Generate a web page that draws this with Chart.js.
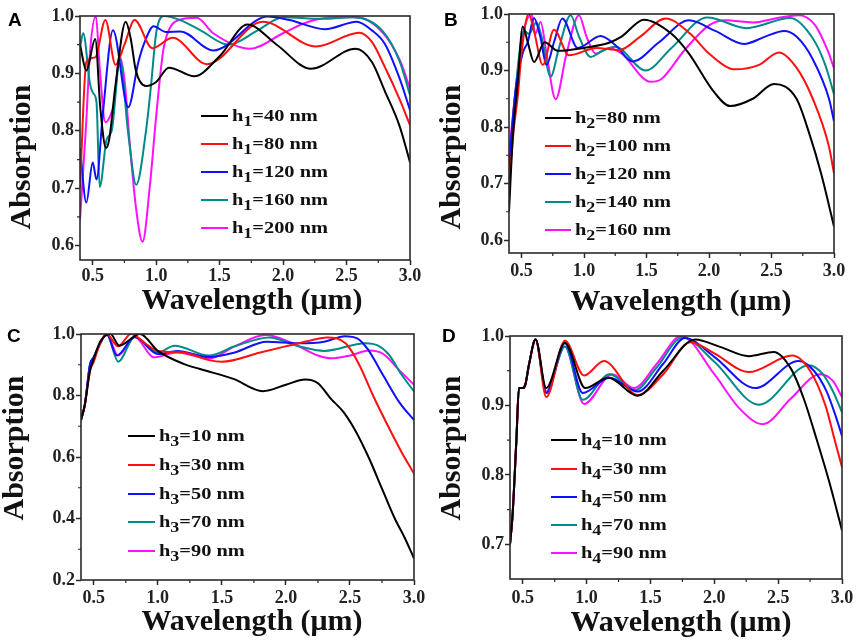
<!DOCTYPE html>
<html>
<head>
<meta charset="utf-8">
<script src="https://cdn.jsdelivr.net/npm/chart.js@4.4.0/dist/chart.umd.min.js"></script>
<style>
html,body{margin:0;padding:0;background:#fff;}
#wrap{position:relative;width:858px;height:644px;overflow:hidden;background:#fff;}
canvas{position:absolute;}
</style>
</head>
<body>
<div id="wrap">
<canvas id="cA" width="429" height="322" style="left:0;top:0"></canvas>
<canvas id="cB" width="429" height="322" style="left:429px;top:0"></canvas>
<canvas id="cC" width="429" height="322" style="left:0;top:322px"></canvas>
<canvas id="cD" width="429" height="322" style="left:429px;top:322px"></canvas>
</div>
<script>
// ---------- shared ticks ----------
const xTicks = [0.5, 1.0, 1.5, 2.0, 2.5, 3.0];
const xMinorTicks = [0.75, 1.25, 1.75, 2.25, 2.75];
const seriesColors = ['#000000', '#ff1010', '#1010ff', '#008b8b', '#ff10ff'];

// ---------- Panel A (h1) ----------
const A_labels = ['40 nm', '80 nm', '120 nm', '160 nm', '200 nm'];
const A_yTicks = [0.6, 0.7, 0.8, 0.9, 1.0];
const A_yMinor = [0.65, 0.75, 0.85, 0.95];
const A_x40 = [0.40,0.45,0.52,0.56,0.605,0.63,0.68,0.76,0.80,0.84,0.92,1.00,1.10,1.30,1.50,1.72,1.95,2.22,2.57,2.70,2.80,2.92,3.00];
const A_y40 = [0.95,0.905,0.96,0.84,0.77,0.785,0.88,0.99,0.96,0.905,0.878,0.885,0.91,0.895,0.93,0.985,0.95,0.908,0.943,0.92,0.87,0.807,0.745];
const A_x80 = [0.40,0.45,0.52,0.60,0.68,0.75,0.83,0.97,1.13,1.40,1.84,2.26,2.60,2.70,2.80,2.92,3.00];
const A_y80 = [0.70,0.92,0.928,0.993,0.915,0.95,0.993,0.944,0.962,0.916,0.99,0.947,0.971,0.955,0.912,0.854,0.81];
const A_x120 = [0.40,0.45,0.50,0.53,0.58,0.66,0.78,0.86,0.91,0.98,1.08,1.19,1.45,1.88,2.05,2.33,2.58,2.70,2.80,2.92,3.00];
const A_y120 = [0.77,0.675,0.745,0.715,0.83,0.975,0.841,0.92,0.955,0.982,0.972,0.973,0.94,0.999,0.993,0.977,0.99,0.975,0.952,0.89,0.836];
const A_x160 = [0.40,0.425,0.48,0.505,0.53,0.555,0.61,0.65,0.715,0.78,0.843,0.92,0.96,1.00,1.06,1.20,1.35,1.57,1.80,2.00,2.30,2.55,2.78,2.92,3.00];
const A_y160 = [0.945,0.97,0.88,0.865,0.85,0.702,0.785,0.80,0.925,0.795,0.706,0.80,0.88,0.97,1.0,0.992,0.975,0.95,0.975,0.998,0.995,0.998,0.975,0.92,0.862];
const A_x200 = [0.40,0.447,0.48,0.525,0.555,0.60,0.64,0.67,0.71,0.75,0.79,0.84,0.893,0.95,1.00,1.056,1.11,1.18,1.32,1.45,1.74,2.00,2.20,2.40,2.58,2.79,2.92,3.00];
const A_y200 = [0.645,0.807,0.94,1.0,0.91,0.815,0.827,0.85,0.93,0.89,0.784,0.668,0.607,0.703,0.825,0.94,0.98,0.993,0.997,0.97,0.943,0.97,0.99,0.998,0.998,0.97,0.923,0.874];

// ---------- Panel B (h2) ----------
const B_labels = ['80 nm', '100 nm', '120 nm', '140 nm', '160 nm'];
const B_yTicks = [0.6, 0.7, 0.8, 0.9, 1.0];
const B_yMinor = [0.65, 0.75, 0.85, 0.95];
const B_x80 = [0.40,0.43,0.47,0.51,0.55,0.60,0.685,0.79,1.00,1.20,1.30,1.48,1.70,1.84,2.03,2.17,2.35,2.52,2.70,2.80,2.90,3.00];
const B_y80 = [0.65,0.78,0.88,0.978,0.95,0.915,0.95,0.935,0.94,0.949,0.96,0.99,0.965,0.93,0.865,0.837,0.85,0.876,0.85,0.79,0.715,0.624];
const B_x100 = [0.40,0.44,0.47,0.50,0.557,0.60,0.67,0.76,0.88,1.10,1.28,1.45,1.653,1.85,2.00,2.21,2.40,2.56,2.70,2.83,2.96,3.00];
const B_y100 = [0.697,0.80,0.854,0.93,1.0,0.97,0.91,0.972,0.927,0.94,0.936,0.96,0.992,0.965,0.93,0.902,0.91,0.932,0.905,0.85,0.765,0.718];
const B_x120 = [0.40,0.45,0.51,0.55,0.60,0.65,0.70,0.76,0.827,0.95,1.133,1.25,1.387,1.60,1.84,2.05,2.28,2.45,2.60,2.70,2.83,2.96,3.00];
const B_y120 = [0.73,0.86,0.931,0.95,0.993,0.96,0.91,0.95,0.992,0.94,0.961,0.945,0.916,0.95,0.989,0.97,0.947,0.96,0.97,0.96,0.92,0.85,0.81];
const B_x140 = [0.40,0.45,0.52,0.56,0.62,0.66,0.733,0.80,0.893,0.96,1.053,1.15,1.25,1.493,1.70,1.987,2.30,2.65,2.83,2.93,3.00];
const B_y140 = [0.72,0.86,0.97,0.965,0.985,0.96,0.889,0.94,0.998,0.96,0.924,0.935,0.942,0.90,0.94,0.994,0.975,0.993,0.957,0.91,0.858];
const B_x160 = [0.40,0.45,0.50,0.58,0.61,0.653,0.70,0.773,0.86,0.96,1.02,1.093,1.20,1.30,1.533,1.62,1.80,2.00,2.133,2.35,2.55,2.72,2.85,2.95,3.00];
const B_y160 = [0.753,0.86,0.95,1.0,0.965,0.986,0.93,0.849,0.93,0.998,0.96,0.93,0.94,0.93,0.88,0.885,0.935,0.98,0.989,0.985,0.993,0.998,0.98,0.935,0.904];

// ---------- Panel C (h3) ----------
const C_labels = ['10 nm', '30 nm', '50 nm', '70 nm', '90 nm'];
const C_yTicks = [0.2, 0.4, 0.6, 0.8, 1.0];
const C_yMinor = [0.3, 0.5, 0.7, 0.9];
const C_x10 = [0.40,0.43,0.47,0.50,0.55,0.63,0.70,0.86,1.00,1.20,1.33,1.59,1.82,2.00,2.15,2.25,2.35,2.45,2.55,2.65,2.75,2.85,2.93,3.00];
const C_y10 = [0.72,0.77,0.88,0.92,0.975,1.0,0.962,1.0,0.945,0.903,0.886,0.854,0.814,0.835,0.852,0.84,0.79,0.746,0.68,0.595,0.497,0.40,0.335,0.27];
const C_x30 = [0.40,0.43,0.47,0.50,0.55,0.60,0.69,0.79,0.90,1.00,1.20,1.40,1.50,1.80,2.00,2.20,2.32,2.47,2.576,2.68,2.81,2.90,3.00];
const C_y30 = [0.72,0.77,0.88,0.91,0.97,1.0,0.96,1.0,0.97,0.945,0.94,0.915,0.91,0.94,0.96,0.98,0.989,0.968,0.897,0.80,0.69,0.618,0.546];
const C_x50 = [0.40,0.43,0.47,0.50,0.55,0.60,0.68,0.82,1.00,1.15,1.40,1.60,1.85,2.10,2.30,2.46,2.56,2.64,2.76,2.89,3.00];
const C_y50 = [0.72,0.77,0.90,0.925,0.97,1.0,0.93,0.99,0.935,0.945,0.925,0.94,0.975,0.97,0.975,0.993,0.985,0.95,0.865,0.775,0.72];
const C_x70 = [0.40,0.43,0.47,0.50,0.55,0.60,0.69,0.82,1.00,1.13,1.40,1.60,1.87,2.10,2.30,2.62,2.72,2.80,2.90,3.00];
const C_y70 = [0.72,0.77,0.90,0.925,0.97,1.0,0.91,0.99,0.94,0.962,0.93,0.96,0.989,0.96,0.945,0.97,0.962,0.935,0.87,0.813];
const C_x90 = [0.40,0.43,0.47,0.50,0.55,0.60,0.69,0.82,0.97,1.15,1.40,1.60,1.84,2.05,2.25,2.35,2.50,2.65,2.76,2.89,3.00];
const C_y90 = [0.72,0.77,0.90,0.925,0.97,1.0,0.93,0.99,0.924,0.94,0.92,0.96,0.997,0.97,0.93,0.921,0.93,0.946,0.935,0.88,0.835];

// ---------- Panel D (h4) ----------
const D_labels = ['10 nm', '30 nm', '50 nm', '70 nm', '90 nm'];
const D_yTicks = [0.7, 0.8, 0.9, 1.0];
const D_yMinor = [0.75, 0.85, 0.95];
const D_x10 = [0.40,0.42,0.45,0.47,0.50,0.52,0.55,0.60,0.684,0.83,0.99,1.17,1.40,1.60,1.85,2.05,2.27,2.465,2.60,2.70,2.80,2.90,3.00];
const D_y10 = [0.70,0.742,0.85,0.925,0.925,0.93,0.96,0.995,0.925,0.99,0.925,0.94,0.914,0.95,0.995,0.984,0.971,0.977,0.953,0.91,0.852,0.79,0.72];
const D_x30 = [0.40,0.42,0.45,0.47,0.50,0.52,0.55,0.60,0.684,0.83,0.98,1.135,1.40,1.60,1.813,2.00,2.27,2.61,2.75,2.87,2.95,3.00];
const D_y30 = [0.70,0.742,0.85,0.925,0.925,0.93,0.96,0.995,0.912,0.993,0.943,0.964,0.915,0.945,0.991,0.975,0.948,0.972,0.95,0.90,0.845,0.811];
const D_x50 = [0.40,0.42,0.45,0.47,0.50,0.52,0.55,0.60,0.684,0.83,0.97,1.18,1.40,1.60,1.77,2.00,2.32,2.66,2.78,2.88,2.95,3.00];
const D_y50 = [0.70,0.742,0.85,0.925,0.925,0.93,0.96,0.995,0.918,0.99,0.918,0.94,0.92,0.96,0.997,0.97,0.925,0.964,0.95,0.92,0.885,0.856];
const D_x70 = [0.40,0.42,0.45,0.47,0.50,0.52,0.55,0.60,0.684,0.83,0.97,1.18,1.38,1.55,1.75,2.00,2.35,2.74,2.85,2.93,3.00];
const D_y70 = [0.70,0.742,0.85,0.925,0.925,0.93,0.96,0.995,0.918,0.985,0.908,0.945,0.922,0.955,0.998,0.963,0.901,0.958,0.945,0.92,0.89];
const D_x90 = [0.40,0.42,0.45,0.47,0.50,0.52,0.55,0.60,0.684,0.83,0.98,1.20,1.37,1.55,1.74,2.00,2.20,2.38,2.60,2.83,2.93,3.00];
const D_y90 = [0.70,0.742,0.85,0.925,0.925,0.93,0.96,0.995,0.92,0.985,0.902,0.945,0.925,0.96,1.0,0.945,0.895,0.873,0.91,0.945,0.935,0.912];

// ---------- helpers ----------
const SERIF = "'Liberation Serif', 'Times New Roman', serif";
const SANS = "'Liberation Sans', Arial, sans-serif";

function pts(xs, ys) { return xs.map((x, i) => ({ x: x, y: ys[i] })); }

const decorPlugin = {
  id: 'decor',
  afterDatasetsDraw(chart, args, o) {
    const ctx = chart.ctx, ca = chart.chartArea;
    const xs = chart.scales.x, ys = chart.scales.y;
    ctx.save();
    ctx.strokeStyle = '#2a2a2a';
    ctx.lineWidth = 1.6;
    ctx.strokeRect(ca.left, ca.top, ca.right - ca.left, ca.bottom - ca.top);
    ctx.lineWidth = 1.2;
    ctx.beginPath();
    o.xMinor.forEach(v => { const p = xs.getPixelForValue(v); ctx.moveTo(p, ca.bottom); ctx.lineTo(p, ca.bottom + 3); });
    o.yMinor.forEach(v => { const p = ys.getPixelForValue(v); ctx.moveTo(ca.left, p); ctx.lineTo(ca.left - 3, p); });
    ctx.stroke();
    ctx.restore();
  },
  afterDraw(chart, args, o) {
    const ctx = chart.ctx;
    ctx.save();
    ctx.fillStyle = '#000';
    ctx.font = 'bold 19px ' + SANS;
    ctx.textAlign = 'left';
    ctx.textBaseline = 'top';
    ctx.fillText(o.letter, o.letterPos[0], o.letterPos[1]);
    ctx.fillStyle = '#111';
    ctx.font = 'bold 30px ' + SERIF;
    ctx.textAlign = 'center';
    ctx.textBaseline = 'middle';
    ctx.fillText('Wavelength (\u03bcm)', o.xTitle[0], o.xTitle[1]);
    ctx.save();
    ctx.translate(o.yTitle[0], o.yTitle[1]);
    ctx.rotate(-Math.PI / 2);
    ctx.fillText('Absorption', 0, 0);
    ctx.restore();
    const L = o.legend;
    const SX = 1.2;
    L.labels.forEach((lab, i) => {
      const y = L.ys[i];
      ctx.strokeStyle = seriesColors[i];
      ctx.lineWidth = 2;
      ctx.beginPath();
      ctx.moveTo(L.x0, y); ctx.lineTo(L.x1, y);
      ctx.stroke();
      ctx.save();
      ctx.translate(L.tx, 0);
      ctx.scale(SX, 1);
      ctx.fillStyle = '#111';
      ctx.textAlign = 'left';
      ctx.textBaseline = 'alphabetic';
      let x = 0;
      ctx.font = 'bold 17px ' + SERIF;
      ctx.fillText('h', x, y + 5);
      x += ctx.measureText('h').width;
      ctx.font = 'bold 15px ' + SERIF;
      ctx.fillText(L.sub, x, y + 10);
      x += ctx.measureText(L.sub).width;
      ctx.font = 'bold 17px ' + SERIF;
      ctx.fillText('=' + lab, x, y + 5);
      ctx.restore();
    });
    ctx.restore();
  }
};

function makeChart(id, P) {
  const datasets = P.series.map((s, i) => ({
    label: P.legend.labels[i],
    data: pts(s[0], s[1]),
    borderColor: seriesColors[i],
    borderWidth: 2,
    pointRadius: 0,
    fill: false,
    cubicInterpolationMode: 'monotone'
  }));
  return new Chart(document.getElementById(id), {
    type: 'line',
    data: { datasets: datasets },
    plugins: [decorPlugin],
    options: {
      responsive: false,
      animation: false,
      events: [],
      layout: { padding: { left: 0, top: P.padTop, right: P.padRight, bottom: 0 } },
      plugins: {
        legend: { display: false },
        tooltip: { enabled: false },
        decor: {
          xMinor: xMinorTicks, yMinor: P.yMinor, letter: P.letter, letterPos: P.letterPos,
          xTitle: P.xTitle, yTitle: P.yTitle, legend: P.legend
        }
      },
      scales: {
        x: {
          type: 'linear', min: 0.4, max: 3.0,
          afterBuildTicks: sc => { sc.ticks = xTicks.map(v => ({ value: v })); },
          afterFit: sc => { sc.height = P.xH; },
          ticks: { callback: v => v.toFixed(1), font: { family: SERIF, size: 18, weight: 'bold' }, color: '#222', padding: P.xPad, maxRotation: 0, autoSkip: false },
          grid: { drawOnChartArea: false, drawTicks: true, tickLength: 5, tickColor: '#2a2a2a', tickWidth: 1.5 },
          border: { display: false }
        },
        y: {
          type: 'linear', min: P.yMin, max: 1.0,
          afterBuildTicks: sc => { sc.ticks = P.yTicks.map(v => ({ value: v })); },
          afterFit: sc => { sc.width = P.yW; },
          ticks: { callback: v => v.toFixed(1), font: { family: SERIF, size: 18, weight: 'bold' }, color: '#222', padding: 1, autoSkip: false },
          grid: { drawOnChartArea: false, drawTicks: true, tickLength: 5, tickColor: '#2a2a2a', tickWidth: 1.5 },
          border: { display: false }
        }
      }
    }
  });
}

makeChart('cA', {
  padTop: 16, padRight: 19, yW: 80, xH: 62, xPad: 1, yMin: 0.575, yTicks: A_yTicks, yMinor: A_yMinor,
  letter: 'A', letterPos: [8, 11], xTitle: [252, 301], yTitle: [22, 157],
  legend: { labels: A_labels, sub: '1', x0: 201, x1: 228, tx: 232, ys: [116, 144, 172, 200, 228] },
  series: [[A_x40, A_y40], [A_x80, A_y80], [A_x120, A_y120], [A_x160, A_y160], [A_x200, A_y200]]
});
makeChart('cB', {
  padTop: 14, padRight: 24, yW: 80, xH: 69, xPad: 3, yMin: 0.577, yTicks: B_yTicks, yMinor: B_yMinor,
  letter: 'B', letterPos: [15, 11], xTitle: [252, 302], yTitle: [23, 157],
  legend: { labels: B_labels, sub: '2', x0: 116, x1: 142, tx: 146, ys: [118, 146, 174, 202, 230] },
  series: [[B_x80, B_y80], [B_x100, B_y100], [B_x120, B_y120], [B_x140, B_y140], [B_x160, B_y160]]
});
makeChart('cC', {
  padTop: 12, padRight: 15, yW: 81, xH: 64, xPad: 3, yMin: 0.2, yTicks: C_yTicks, yMinor: C_yMinor,
  letter: 'C', letterPos: [7, 5], xTitle: [252, 300], yTitle: [15, 126],
  legend: { labels: C_labels, sub: '3', x0: 128, x1: 155, tx: 159, ys: [114, 143, 172, 200, 229] },
  series: [[C_x10, C_y10], [C_x30, C_y30], [C_x50, C_y50], [C_x70, C_y70], [C_x90, C_y90]]
});
makeChart('cD', {
  padTop: 14, padRight: 16, yW: 81, xH: 65, xPad: 4, yMin: 0.65, yTicks: D_yTicks, yMinor: D_yMinor,
  letter: 'D', letterPos: [13, 5], xTitle: [252, 301], yTitle: [23, 126],
  legend: { labels: D_labels, sub: '4', x0: 122, x1: 148, tx: 152, ys: [118, 147, 175, 203, 231] },
  series: [[D_x10, D_y10], [D_x30, D_y30], [D_x50, D_y50], [D_x70, D_y70], [D_x90, D_y90]]
});
</script>
</body>
</html>
